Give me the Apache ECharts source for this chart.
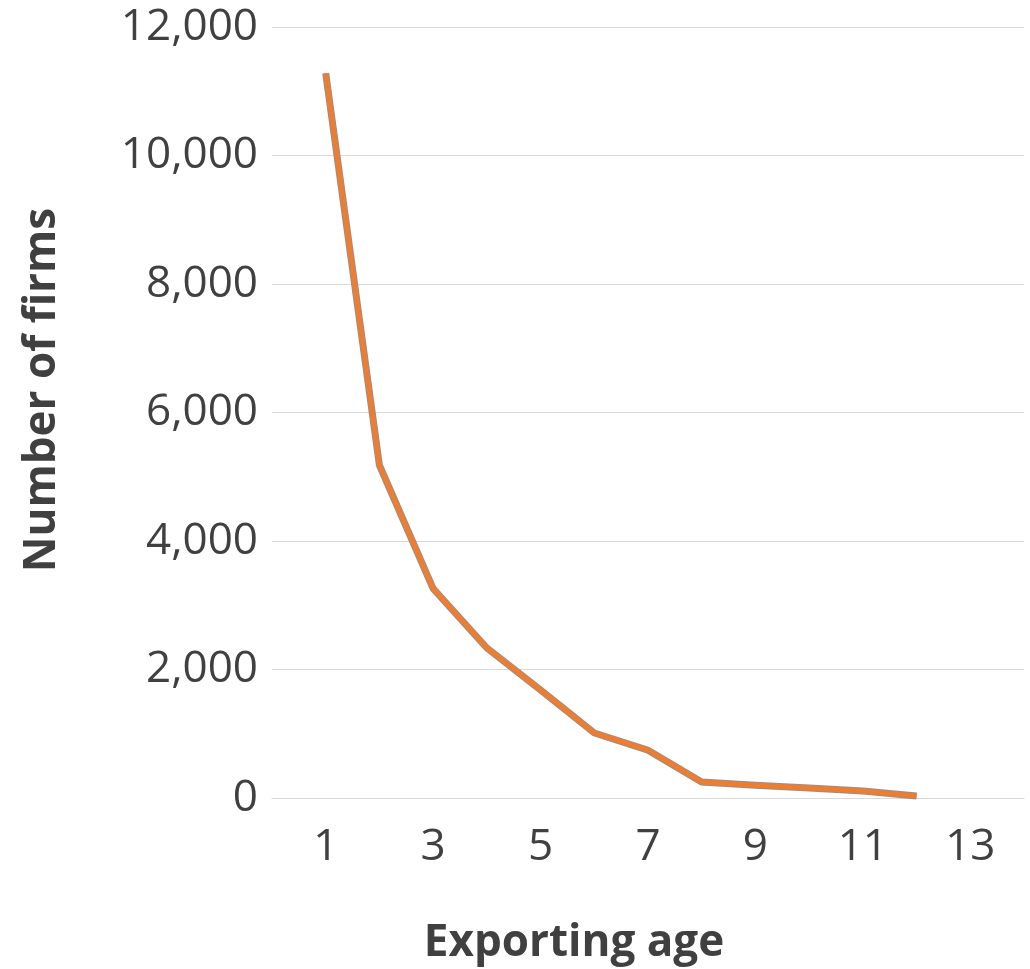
<!DOCTYPE html>
<html>
<head>
<meta charset="utf-8">
<script src="https://cdn.jsdelivr.net/npm/echarts@6/dist/echarts.min.js"></script>
<style>
html,body{margin:0;padding:0;background:#fff;}
#chart{width:1030px;height:969px;}
</style>
</head>
<body>
<div id="chart"></div>
<script>
const ages = [1, 2, 3, 4, 5, 6, 7, 8, 9, 10, 11, 12];
const firms = [11280, 5180, 3260, 2335, 1680, 1012, 745, 250, 200, 155, 108, 30];
const xTickLabels = [1, 3, 5, 7, 9, 11, 13];
const xTitle = 'Exporting age';
const yTitle = 'Number of firms';

const pts = ages.map((a, i) => [a, firms[i]]);
const FONT = '"Open Sans", "Noto Sans", sans-serif';
const TXT = '#404040';

const chart = echarts.init(document.getElementById('chart'), null, {renderer: 'canvas'});
chart.setOption({
  animation: false,
  backgroundColor: '#ffffff',
  grid: {left: 272, right: 6, top: 27, bottom: 171, containLabel: false},
  xAxis: {
    type: 'value', min: 0, max: 14, interval: 1,
    axisLine: {show: true, lineStyle: {color: '#D9D9D9', width: 1}},
    axisTick: {show: false},
    splitLine: {show: false},
    axisLabel: {
      margin: 27, color: TXT, fontFamily: FONT, fontSize: 44,
      formatter: v => xTickLabels.indexOf(v) >= 0 ? String(v) : ''
    }
  },
  yAxis: {
    type: 'value', min: 0, max: 12000, interval: 2000,
    axisLine: {show: false},
    axisTick: {show: false},
    splitLine: {show: true, lineStyle: {color: '#D9D9D9', width: 1}},
    axisLabel: {
      margin: 14, color: TXT, fontFamily: FONT, fontSize: 44,
      formatter: v => v.toLocaleString('en-US')
    }
  },
  graphic: [
    {type: 'text', x: 574, y: 943, style: {text: xTitle, fill: TXT, font: 'bold 44px ' + FONT, align: 'center', verticalAlign: 'middle'}, z: 10},
    {type: 'text', x: 42, y: 390, rotation: Math.PI / 2, style: {text: yTitle, fill: TXT, font: 'bold 44px ' + FONT, align: 'center', verticalAlign: 'middle'}, z: 10}
  ],
  series: [
    {type: 'line', data: pts, symbol: 'none', silent: true, z: 2,
     lineStyle: {color: '#9A8F88', width: 7, join: 'miter'}},
    {type: 'line', data: pts, symbol: 'none', silent: true, z: 3,
     lineStyle: {color: '#ED7D31', width: 5, join: 'miter'}}
  ]
});
</script>
</body>
</html>
